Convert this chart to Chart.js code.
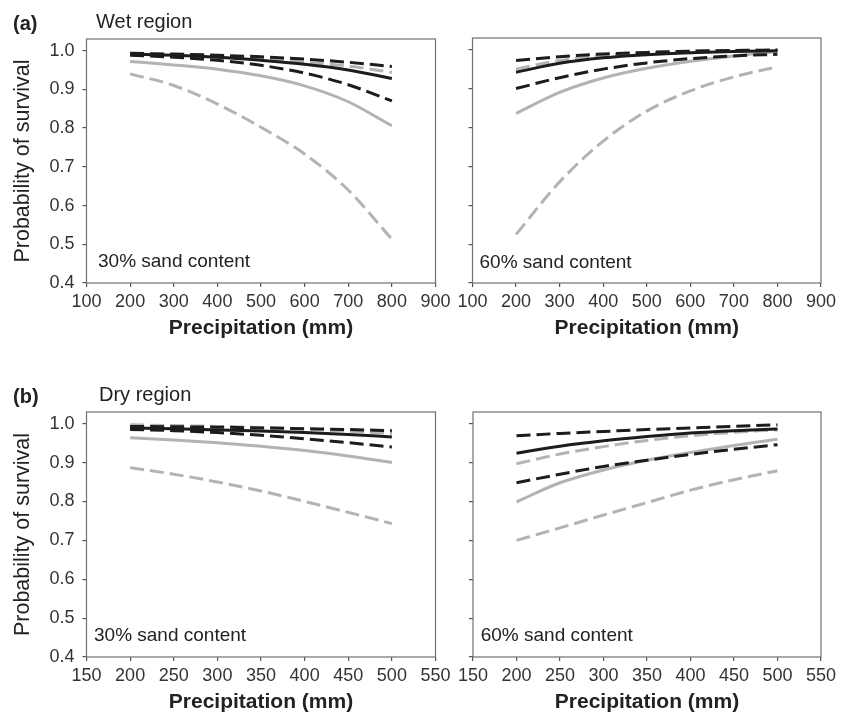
<!DOCTYPE html>
<html>
<head>
<meta charset="utf-8">
<script src="https://cdn.jsdelivr.net/npm/chart.js@4"></script>
<style>
  html, body { margin: 0; padding: 0; background: #fff; }
  #wrap { position: relative; width: 848px; height: 721px; overflow: hidden; }
  canvas { position: absolute; }
</style>
</head>
<body>
<div id="wrap">
  <canvas id="wet30" width="458" height="343" style="left:0;top:0"></canvas>
  <canvas id="wet60" width="408" height="343" style="left:440px;top:0"></canvas>
  <canvas id="dry30" width="458" height="341" style="left:0;top:376px"></canvas>
  <canvas id="dry60" width="408" height="341" style="left:440px;top:376px"></canvas>
</div>
<script>
// x values (precipitation, mm)
const wetPrecip = [200, 300, 400, 500, 600, 700, 800];
const dryPrecip = [200, 250, 300, 350, 400, 450, 500];
const wetTicksX = [100, 200, 300, 400, 500, 600, 700, 800, 900];
const dryTicksX = [150, 200, 250, 300, 350, 400, 450, 500, 550];
const survivalTicks = [0.4, 0.5, 0.6, 0.7, 0.8, 0.9, 1.0];

// (a) wet region, 30% sand
const wet30BlackFit   = [0.991, 0.988, 0.983, 0.975, 0.965, 0.950, 0.928];
const wet30BlackUpper = [0.993, 0.991, 0.988, 0.984, 0.978, 0.970, 0.959];
const wet30BlackLower = [0.988, 0.983, 0.975, 0.962, 0.942, 0.912, 0.870];
const wet30GrayFit    = [0.972, 0.963, 0.952, 0.935, 0.909, 0.868, 0.806];
const wet30GrayUpper  = [0.992, 0.990, 0.985, 0.979, 0.970, 0.960, 0.944];
const wet30GrayLower  = [0.940, 0.910, 0.862, 0.802, 0.733, 0.640, 0.513];

// (a) wet region, 60% sand
const wet60BlackFit   = [0.942, 0.965, 0.979, 0.987, 0.992, 0.995, 0.997];
const wet60BlackUpper = [0.972, 0.982, 0.989, 0.993, 0.996, 0.998, 0.999];
const wet60BlackLower = [0.900, 0.928, 0.950, 0.966, 0.977, 0.984, 0.988];
const wet60GrayFit    = [0.836, 0.890, 0.927, 0.952, 0.970, 0.984, 0.995];
const wet60GrayUpper  = [0.950, 0.972, 0.985, 0.992, 0.996, 0.998, 0.999];
const wet60GrayLower  = [0.525, 0.660, 0.765, 0.842, 0.894, 0.930, 0.956];

// (b) dry region, 30% sand
const dry30BlackFit   = [0.989, 0.987, 0.984, 0.981, 0.977, 0.972, 0.966];
const dry30BlackUpper = [0.993, 0.992, 0.991, 0.989, 0.987, 0.985, 0.982];
const dry30BlackLower = [0.985, 0.982, 0.977, 0.970, 0.961, 0.951, 0.940];
const dry30GrayFit    = [0.964, 0.958, 0.951, 0.942, 0.931, 0.917, 0.900];
const dry30GrayUpper  = [0.997, 0.995, 0.993, 0.990, 0.986, 0.981, 0.975];
const dry30GrayLower  = [0.887, 0.870, 0.850, 0.827, 0.800, 0.772, 0.743];

// (b) dry region, 60% sand
const dry60BlackFit   = [0.924, 0.942, 0.956, 0.967, 0.976, 0.982, 0.986];
const dry60BlackUpper = [0.969, 0.975, 0.980, 0.985, 0.989, 0.993, 0.997];
const dry60BlackLower = [0.848, 0.870, 0.890, 0.906, 0.921, 0.934, 0.946];
const dry60GrayFit    = [0.799, 0.848, 0.881, 0.906, 0.926, 0.944, 0.960];
const dry60GrayUpper  = [0.897, 0.922, 0.941, 0.957, 0.969, 0.978, 0.984];
const dry60GrayLower  = [0.700, 0.732, 0.765, 0.797, 0.829, 0.856, 0.879];

const FONT = "'Liberation Sans', Arial, sans-serif";
const BLACK = '#1c1c1c';
const GRAY = '#b3b3b3';
const DASH = [14, 6];

// box around the plot area + the small text labels
const framePlugin = {
    id: 'frame',
    afterDraw(chart, args, opts) {
        const ctx = chart.ctx;
        const a = chart.chartArea;
        ctx.save();
        ctx.strokeStyle = '#707070';
        ctx.lineWidth = 1.2;
        ctx.strokeRect(a.left, a.top, a.right - a.left, a.bottom - a.top);
        ctx.fillStyle = '#222';
        ctx.textBaseline = 'alphabetic';
        ctx.textAlign = 'left';
        (opts.notes || []).forEach(n => {
            ctx.font = n.font;
            const x = n.rel ? a.left + n.x : n.x;
            const y = n.rel ? a.bottom + n.y : n.y;
            ctx.fillText(n.text, x, y);
        });
        ctx.restore();
    }
};

function line(xs, ys, color, dashed) {
    return {
        data: xs.map((x, i) => ({ x: x, y: ys[i] })),
        borderColor: color,
        borderWidth: 3,
        borderDash: dashed ? DASH : [],
        pointRadius: 0,
        fill: false,
        cubicInterpolationMode: 'monotone'
    };
}

function makePanel(id, p) {
    const ctx = document.getElementById(id).getContext('2d');
    new Chart(ctx, {
        type: 'line',
        data: {
            datasets: [
                line(p.xs, p.blackFit, BLACK, false),
                line(p.xs, p.blackUpper, BLACK, true),
                line(p.xs, p.blackLower, BLACK, true),
                line(p.xs, p.grayFit, GRAY, false),
                line(p.xs, p.grayUpper, GRAY, true),
                line(p.xs, p.grayLower, GRAY, true)
            ]
        },
        options: {
            responsive: false,
            animation: false,
            layout: { padding: { top: p.padTop, right: p.padRight, bottom: 0, left: 0 } },
            plugins: {
                legend: { display: false },
                tooltip: { enabled: false },
                frame: { notes: p.notes }
            },
            scales: {
                x: {
                    type: 'linear',
                    min: p.xTicks[0],
                    max: p.xTicks[p.xTicks.length - 1],
                    afterBuildTicks: s => { s.ticks = p.xTicks.map(v => ({ value: v })); },
                    afterFit: s => { s.height = 60; },
                    border: { display: false },
                    grid: { drawOnChartArea: false, drawTicks: true, tickLength: 4, color: '#555', lineWidth: 1.2 },
                    ticks: { color: '#333', padding: 4, maxRotation: 0, autoSkip: false, font: { family: FONT, size: 18 } },
                    title: {
                        display: true,
                        text: 'Precipitation (mm)',
                        color: '#222',
                        padding: { top: 0, bottom: 2 },
                        font: { family: FONT, size: 21, weight: 'bold' }
                    }
                },
                y: {
                    min: 0.4,
                    max: 1.03,
                    afterBuildTicks: s => { s.ticks = survivalTicks.map(v => ({ value: v })); },
                    afterFit: s => { s.width = p.yWidth; },
                    border: { display: false },
                    grid: { drawOnChartArea: false, drawTicks: true, tickLength: 4, color: '#555', lineWidth: 1.2 },
                    ticks: {
                        display: p.yLabels,
                        color: '#333',
                        padding: 8,
                        font: { family: FONT, size: 18 },
                        callback: v => v.toFixed(1)
                    },
                    title: {
                        display: p.yLabels,
                        text: 'Probability of survival',
                        color: '#222',
                        padding: { top: 10, bottom: 0 },
                        font: { family: FONT, size: 21.5 }
                    }
                }
            }
        },
        plugins: [framePlugin]
    });
}

const sandFont = '19px ' + FONT;
const titleFont = '20px ' + FONT;
const letterFont = 'bold 20px ' + FONT;

makePanel('wet30', {
    xs: wetPrecip, xTicks: wetTicksX,
    blackFit: wet30BlackFit, blackUpper: wet30BlackUpper, blackLower: wet30BlackLower,
    grayFit: wet30GrayFit, grayUpper: wet30GrayUpper, grayLower: wet30GrayLower,
    padTop: 39, padRight: 22.5, yWidth: 86.5, yLabels: true,
    notes: [
        { text: '(a)', font: letterFont, x: 13, y: 29.5 },
        { text: 'Wet region', font: titleFont, x: 96, y: 27.5 },
        { text: '30% sand content', font: sandFont, x: 11.5, y: -16.5, rel: true }
    ]
});

makePanel('wet60', {
    xs: wetPrecip, xTicks: wetTicksX,
    blackFit: wet60BlackFit, blackUpper: wet60BlackUpper, blackLower: wet60BlackLower,
    grayFit: wet60GrayFit, grayUpper: wet60GrayUpper, grayLower: wet60GrayLower,
    padTop: 38, padRight: 27, yWidth: 32.5, yLabels: false,
    notes: [
        { text: '60% sand content', font: sandFont, x: 7, y: -15.5, rel: true }
    ]
});

makePanel('dry30', {
    xs: dryPrecip, xTicks: dryTicksX,
    blackFit: dry30BlackFit, blackUpper: dry30BlackUpper, blackLower: dry30BlackLower,
    grayFit: dry30GrayFit, grayUpper: dry30GrayUpper, grayLower: dry30GrayLower,
    padTop: 36, padRight: 22.5, yWidth: 86.5, yLabels: true,
    notes: [
        { text: '(b)', font: letterFont, x: 13, y: 26.5 },
        { text: 'Dry region', font: titleFont, x: 99, y: 24.5 },
        { text: '30% sand content', font: sandFont, x: 7.5, y: -16.5, rel: true }
    ]
});

makePanel('dry60', {
    xs: dryPrecip, xTicks: dryTicksX,
    blackFit: dry60BlackFit, blackUpper: dry60BlackUpper, blackLower: dry60BlackLower,
    grayFit: dry60GrayFit, grayUpper: dry60GrayUpper, grayLower: dry60GrayLower,
    padTop: 36, padRight: 27, yWidth: 33, yLabels: false,
    notes: [
        { text: '60% sand content', font: sandFont, x: 7.7, y: -16.5, rel: true }
    ]
});
</script>
</body>
</html>
